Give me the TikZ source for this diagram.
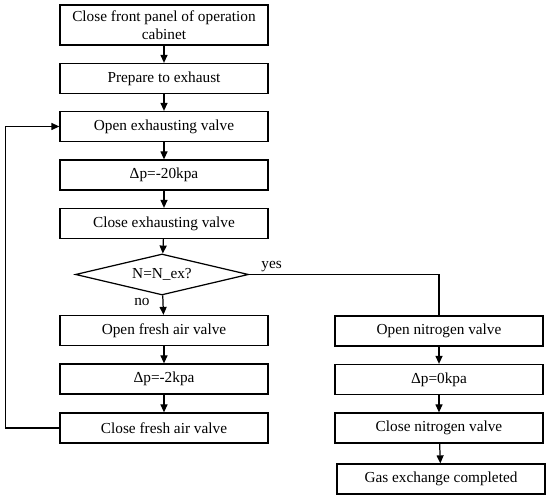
\documentclass[tikz,border=0pt]{standalone}
\usepackage{fontspec}
\setmainfont{Liberation Serif}
\usetikzlibrary{arrows.meta,shapes.geometric}

\begin{document}
\begin{tikzpicture}[>={Triangle[length=1.6mm,width=1.4mm]},line width=0.7pt,
    font=\fontsize{8.7}{10.4}\selectfont,
    stepbox/.style={draw,minimum width=4.16cm,minimum height=0.6cm,inner sep=1pt,align=center},
    check/.style={draw,diamond,aspect=4.2,minimum width=3.46cm,minimum height=0.82cm,inner sep=0pt}]
  \useasboundingbox (0,0) rectangle (11,10);
  % left branch
  \node[stepbox,minimum height=0.8cm] (b1) at (3.28,9.5) {Close front panel of operation\\cabinet};
  \node[stepbox] (b2) at (3.28,8.43) {Prepare to exhaust};
  \node[stepbox] (b3) at (3.28,7.47) {Open exhausting valve};
  \node[stepbox] (b4) at (3.28,6.5) {Δp=-20kpa};
  \node[stepbox] (b5) at (3.28,5.53) {Close exhausting valve};
  \node[check] (d) at (3.24,4.51) {N=N\_ex?};
  \node[stepbox] (b6) at (3.28,3.39) {Open fresh air valve};
  \node[stepbox] (b7) at (3.28,2.42) {Δp=-2kpa};
  \node[stepbox] (b8) at (3.28,1.44) {Close fresh air valve};
  % right branch
  \node[stepbox] (r1) at (8.78,3.38) {Open nitrogen valve};
  \node[stepbox] (r2) at (8.78,2.41) {Δp=0kpa};
  \node[stepbox] (r3) at (8.78,1.44) {Close nitrogen valve};
  \node[stepbox] (r4) at (8.82,0.42) {Gas exchange completed};
  \foreach \a/\b in {b1/b2,b2/b3,b3/b4,b4/b5,b5/d,d/b6,b6/b7,b7/b8,r1/r2,r2/r3,r3/r4}
    \draw[->] (\a) -- (\b);
  \draw[->] (b8.west) -- ++(-1.08,0) |- (b3.west);
  \draw (d.east) -| (r1.north);
  \node[above right,inner sep=1pt] (yes) at ([xshift=0.2cm]d.east) {yes};
  \node[below left,inner sep=1pt] (no) at ([xshift=-0.2cm]d.south) {no};
\end{tikzpicture}
\end{document}
